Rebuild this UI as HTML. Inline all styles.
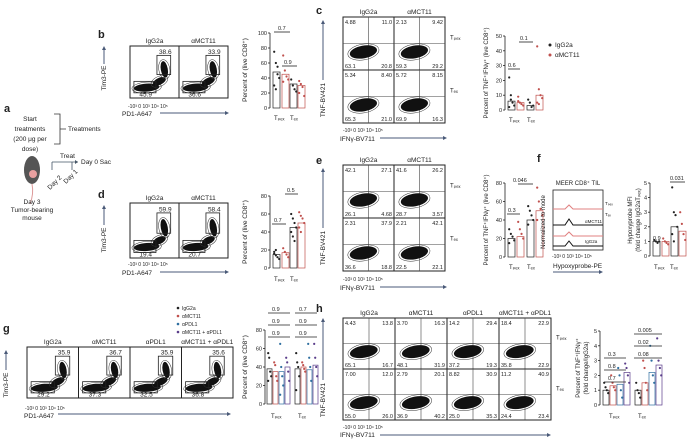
<!DOCTYPE html>
<html><head><meta charset="utf-8"><style>
html,body{margin:0;padding:0;background:#fff}
svg{display:block}
text{font-family:"Liberation Sans",sans-serif;fill:#222}
</style></head><body>
<svg id="s" width="693" height="444" viewBox="0 0 693 444" xmlns="http://www.w3.org/2000/svg">
<g font-size="6.5">
<text x="4" y="112" font-size="11" font-weight="bold">a</text>
<text x="30" y="121" text-anchor="middle">Start</text>
<text x="30" y="131" text-anchor="middle">treatments</text>
<text x="30" y="141" text-anchor="middle">(200 μg per</text>
<text x="30" y="151" text-anchor="middle">dose)</text>
<path d="M54 114 H60 V144 H54 M60 129 H66" stroke="#333" fill="none" stroke-width="0.8"/>
<text x="68" y="131">Treatments</text>
<ellipse cx="32" cy="170" rx="8" ry="14" fill="#555"/><circle cx="33" cy="174" r="4" fill="#e8a0a0"/>
<path d="M32 184 q2 10 -2 20" stroke="#d99" fill="none"/>
<path d="M52 162 H78 M52 162 V170 M72 162 V170" stroke="#456" fill="none" stroke-width="0.8"/>
<path d="M78 162 l-3 -2 v4z" fill="#456"/>
<text x="60" y="158">Treat</text><text x="81" y="164">Day 0 Sac</text>
<text x="50" y="190" transform="rotate(-45 50 190)">Day 2</text>
<text x="66" y="184" transform="rotate(-45 66 184)">Day 1</text>
<text x="32" y="204" text-anchor="middle">Day 3</text>
<text x="32" y="212" text-anchor="middle">Tumor-bearing</text>
<text x="32" y="220" text-anchor="middle">mouse</text>
</g>
<g id="g"></g>
</svg>
<script>
const G=document.getElementById('g');let h='';
const T=(x,y,t,o={})=>{h+=`<text x="${x}" y="${y}" font-size="${o.s||6.5}" ${o.a?`text-anchor="${o.a}"`:''} fill="${o.c||'#222'}" ${o.b?'font-weight="bold"':''} ${o.r?`transform="rotate(-90 ${x} ${y})"`:''}>${t}</text>`;};
const L=(x1,y1,x2,y2,c='#222',w=0.8)=>{h+=`<line x1="${x1}" y1="${y1}" x2="${x2}" y2="${y2}" stroke="${c}" stroke-width="${w}"/>`;};
const R=(x,y,w,hh,c='#222',f='none',sw=0.8)=>{h+=`<rect x="${x}" y="${y}" width="${w}" height="${hh}" stroke="${c}" fill="${f}" stroke-width="${sw}"/>`;};
const ah=(x1,y,x2)=>{L(x1,y,x2,y,'#4a5a78',1);h+=`<path d="M${x2+3} ${y} l-4 -2 v4z" fill="#4a5a78"/>`;};
const av=(x,y1,y2)=>{L(x,y1,x,y2+3,'#4a5a78',1);h+=`<path d="M${x} ${y2} l-2 4 h4z" fill="#4a5a78"/>`;};
const blob=(cx,cy,rx,ry,rot=-20)=>{h+=`<ellipse transform="rotate(${rot} ${cx} ${cy})" cx="${cx}" cy="${cy}" rx="${rx}" ry="${ry}" fill="#111"/><ellipse transform="rotate(${rot} ${cx} ${cy})" cx="${cx}" cy="${cy}" rx="${rx+2}" ry="${ry+1.5}" fill="none" stroke="#333" stroke-width="0.5"/>`;};
function pd(x0,y0,ws,hh,titles,tl,bl){
 titles.forEach((t,i)=>{const x=x0+i*ws;R(x,y0,ws,hh,'#222','none',1);T(x+ws/2,y0-3,t,{a:'middle'});
  blob(x+ws*0.34,y0+hh*0.8,ws*0.26,4,-4);blob(x+ws*0.6,y0+hh*0.68,ws*0.14,3.5,-25);blob(x+ws*0.7,y0+hh*0.45,3.5,hh*0.16,-10);
  R(x+ws*0.55,y0+hh*0.18,ws*0.28,hh*0.37,'#222');R(x+ws*0.08,y0+hh*0.68,ws*0.45,hh*0.22,'#222');
  T(x+ws*0.72,y0+hh*0.15,tl[i],{a:'middle'});T(x+ws*0.32,y0+hh-1.5,bl[i],{a:'middle'});});
}
function yaxis(x,y0,y1,ticks){L(x,y0,x,y1);ticks.forEach((t,i)=>{const y=y0+(y1-y0)*i/(ticks.length-1);L(x-2,y,x,y);T(x-3,y+2,t,{a:'end',s:5.5});});}
function bars(x,y0,y1,series,max,cols){
 series.forEach((s,i)=>{const bx=x+s[2];const by=y1-(y1-y0)*s[0]/max;const w=s[3]||7;R(bx,by,w,y1-by,cols[i%cols.length],'none',0.7);
 s[1].forEach((v,j)=>{h+=`<circle cx="${bx+1.2+(j%4)*(w-2)/3}" cy="${y1-(y1-y0)*v/max}" r="1.1" fill="${cols[i%cols.length]}"/>`;});});
}
const K='#222',RD='#c0504d',BL='#2f6fa0',PU='#5a3d8a';
// b
T(98,38,'b',{s:11,b:1});pd(130,46,49,52,['IgG2a','αMCT11'],['38.6','33.9'],['45.9','36.6']);
T(106,90,'Tim3-PE');h=h.replace(/<text x="106" y="90"[^>]*>Tim3-PE<\/text>$/,'');
T(106,78,'Tim3-PE',{r:1,a:'middle'});av(104,64,46);
T(128,108,'-10³ 0 10³  10⁴ 10⁵',{s:5});T(122,116,'PD1-A647');ah(160,113,226);
yaxis(270,33,108,['100','80','60','40','20','0']);T(247,70,'Percent of (live CD8⁺)',{r:1,a:'middle'});
bars(270,33,108,[[48,[75,60,45,40,30,25,55],3],[45,[70,50,42,38,35],12],[32,[38,30,25,22],20],[30,[36,32,28,16,20],28]],100,[K,RD]);
T(278,30,'0.7',{s:5.5});L(274,32,290,32);T(284,64,'0.9',{s:5.5});L(282,66,297,66);
T(274,120,'Tₚₑₓ',{s:6});T(290,120,'Tₑₓ',{s:6});
// c
T(316,14,'c',{s:11,b:1});
function fq(x0,y0,ws,hh,cols,rows,q,rl){
 cols.forEach((t,i)=>T(x0+ws*i+ws/2,y0-3,t,{a:'middle'}));
 for(let r=0;r<rows;r++)for(let c=0;c<cols.length;c++){const x=x0+c*ws,y=y0+r*hh;R(x,y,ws,hh,'#222','none',1);L(x+ws*0.5,y,x+ws*0.5,y+hh,'#444',0.6);L(x,y+hh*0.5,x+ws,y+hh*0.5,'#444',0.6);
 blob(x+ws*0.4,y+hh*0.66,ws*0.27,hh*0.12,-10);const v=q[r][c];T(x+2,y+7,v[0],{s:5.5});T(x+ws-2,y+7,v[1],{s:5.5,a:'end',c:'#e06060'});T(x+2,y+hh-2,v[2],{s:5.5});T(x+ws-2,y+hh-2,v[3],{s:5.5,a:'end'});}
 rl.forEach((t,r)=>T(x0+ws*cols.length+5,y0+hh*r+hh*0.42,t,{s:6}));
}
fq(343,17,51,53,['IgG2a','αMCT11'],2,[[['4.88','11.0','63.1','20.8'],['2.13','9.42','59.3','29.2']],[['5.34','8.40','65.3','21.0'],['5.72','8.15','69.9','16.3']]],['Tₚₑₓ','Tₑₓ']);
T(325,100,'TNF-BV421',{r:1,a:'middle'});av(323,80,20);T(343,132,'-10³ 0 10³  10⁴ 10⁵',{s:5});T(340,141,'IFNγ-BV711');ah(380,138,444);
yaxis(505,36,110,['50','40','30','20','10','0']);T(488,73,'Percent of TNF⁺IFNγ⁺ (live CD8⁺)',{r:1,a:'middle',s:6});
bars(505,36,110,[[6,[22,10,5,3,2,7],3],[5,[9,5,4,3,6],12],[3,[7,5,2,3],22],[10,[43,14,10,8,5,4],31]],50,[K,RD]);
T(508,67,'0.6',{s:5.5});L(508,69,520,69);T(520,40,'0.1',{s:5.5});L(519,42,533,42);T(509,122,'Tₚₑₓ',{s:6});T(527,122,'Tₑₓ',{s:6});
h+=`<circle cx="550" cy="45" r="1.5" fill="${K}"/><circle cx="550" cy="55" r="1.5" fill="${RD}"/>`;T(555,47,'IgG2a');T(555,57,'αMCT11');
// d
T(98,198,'d',{s:11,b:1});pd(130,203,49,55,['IgG2a','αMCT11'],['59.9','58.4'],['19.4','20.7']);
T(106,240,'Tim3-PE',{r:1,a:'middle'});av(104,225,205);T(128,266,'-10³ 0 10³  10⁴ 10⁵',{s:5});
T(122,275,'PD1-A647');ah(160,272,226);
yaxis(270,196,268,['80','60','40','20','0']);T(247,232,'Percent of (live CD8⁺)',{r:1,a:'middle'});
bars(270,196,268,[[15,[18,14,12,10,16,20],3],[17,[22,18,15,12],12],[45,[60,55,50,45,40,35,30],20],[50,[62,58,55,50,45,40],28]],80,[K,RD]);
T(274,222,'0.7',{s:5.5});L(272,224,286,224);T(287,192,'0.5',{s:5.5});L(285,194,298,194);T(274,281,'Tₚₑₓ',{s:6});T(290,281,'Tₑₓ',{s:6});
// e
T(316,164,'e',{s:11,b:1});
fq(343,165,51,53,['IgG2a','αMCT11'],2,[[['42.1','27.1','26.1','4.68'],['41.6','26.2','28.7','3.57']],[['2.31','37.9','36.6','18.8'],['2.21','42.1','22.5','22.1']]],['Tₚₑₓ','Tₑₓ']);
T(325,248,'TNF-BV421',{r:1,a:'middle'});av(323,228,168);T(343,281,'-10³ 0 10³  10⁴ 10⁵',{s:5});T(340,290,'IFNγ-BV711');ah(380,287,444);
yaxis(505,183,257,['80','60','40','20','0']);T(488,220,'Percent of TNF⁺IFNγ⁺ (live CD8⁺)',{r:1,a:'middle',s:6});
bars(505,183,257,[[20,[30,25,22,18,15],3],[22,[38,30,25,20],12],[40,[55,50,45,40,35],22],[50,[75,60,52,45,40],31]],80,[K,RD]);
T(508,212,'0.3',{s:5.5});L(507,214,520,214);T(513,182,'0.046',{s:5.5});L(518,184,533,184);T(509,269,'Tₚₑₓ',{s:6});T(527,269,'Tₑₓ',{s:6});
// f
T(537,162,'f',{s:11,b:1});T(578,185,'MEER CD8⁺ TIL',{a:'middle',s:6});R(553,190,50,60,'#222','none',0.8);
h+=`<path d="M553 209 H565 l4 -4 l4 4 H603" stroke="#e08080" fill="none"/><path d="M553 225 H565 l4 -6 l4 6 H603" stroke="#111" fill="none"/><path d="M553 236 H565 l4 -4 l4 4 H603" stroke="#e08080" fill="none"/><path d="M553 246 H565 l4 -5 l4 5 H603" stroke="#111" fill="none"/>`;
T(585,223,'αMCT11',{s:4.5,c:'#c06060'});T(585,243,'IgG2a',{s:4.5});T(605,205,'Tₚₑₓ',{s:4.5});T(605,216,'Tₑₓ',{s:4.5});
T(545,222,'Normalized to mode',{r:1,a:'middle',s:6});T(552,258,'-10³ 0 10³  10⁴ 10⁵',{s:5});T(553,268,'Hypoxyprobe-PE');ah(553,272,600);
yaxis(650,183,256,['5','4','3','2','1','0']);T(632,220,'Hypoxyprobe MFI',{r:1,a:'middle',s:6});T(640,220,'(fold change IgG2aTₚₑₓ)',{r:1,a:'middle',s:6});
bars(650,183,256,[[1,[1.1,1,0.9,1],3],[1,[1.2,1,0.9,0.8],12],[2,[4.7,3,2.8,2,1.5,1],21],[1.7,[3,2.2,1.5,1.1],29]],5,[K,RD]);
T(653,240,'0.9',{s:5.5});T(670,180,'0.031',{s:5.5});L(670,182,685,182);T(654,269,'Tₚₑₓ',{s:6});T(670,269,'Tₑₓ',{s:6});
// g
T(3,332,'g',{s:11,b:1});
[['IgG2a',K],['αMCT11',RD],['αPDL1',BL],['αMCT11 + αPDL1',PU]].forEach((l,i)=>{h+=`<circle cx="178" cy="${308+i*8}" r="1.3" fill="${l[1]}"/>`;T(182,310+i*8,l[0],{s:5});});
pd(27,347,51.5,51,['IgG2a','αMCT11','αPDL1','αMCT11 + αPDL1'],['35.9','36.7','35.9','35.6'],['29.2','37.3','32.5','36.8']);
T(8,385,'Tim3-PE',{r:1,a:'middle'});av(6,370,350);T(25,410,'-10³ 0 10³  10⁴ 10⁵',{s:5});T(24,418,'PD1-A647');ah(58,414,228);
yaxis(265,330,404,['80','60','40','20','0']);T(247,367,'Percent of (live CD8⁺)',{r:1,a:'middle'});
bars(265,330,404,[[38,[55,50,35,30,25],2,5],[35,[45,42,30,25],8,5],[35,[65,40,30,20,10],14,5],[40,[50,45,35,25],20,5],[38,[55,45,40,30,15],30,5],[40,[45,42,38,35],36,5],[37,[65,50,40,25],42,5],[42,[65,50,40,30],48,5]],80,[K,RD,BL,PU]);
[['0.9',268,337],['0.9',268,325],['0.9',268,313],['0.9',295,337],['0.9',295,325],['0.7',295,313]].forEach(a=>{T(a[1]+4,a[2]-2,a[0],{s:5.5});L(a[1],a[2],a[1]+22,a[2]);});
T(271,418,'Tₚₑₓ',{s:6});T(298,418,'Tₑₓ',{s:6});
// h
T(316,312,'h',{s:11,b:1});
const hq=[[['4.43','13.8','65.1','16.7'],['3.70','16.3','48.1','31.9'],['14.2','29.4','37.2','19.3'],['18.4','22.9','35.8','22.9']],[['7.00','12.0','55.0','26.0'],['2.79','20.1','36.9','40.2'],['8.82','30.9','25.0','35.3'],['11.2','40.9','24.4','23.4']]];
fq(343,318,52,51,['IgG2a','αMCT11','αPDL1','αMCT11 + αPDL1'],2,hq,['Tₚₑₓ','Tₑₓ']);
T(325,400,'TNF-BV421',{r:1,a:'middle'});av(323,380,318);T(343,429,'-10³ 0 10³  10⁴ 10⁵',{s:5});T(340,437,'IFNγ-BV711');ah(380,435,548);
yaxis(600,331,405,['5','4','3','2','1','0']);T(580,368,'Percent of TNF⁺IFNγ⁺',{r:1,a:'middle',s:6});T(588,368,'(fold change/IgG2a)',{r:1,a:'middle',s:6});
bars(600,331,405,[[1,[1.5,1.2,1,0.8],3,6],[1.3,[2,1.5,1.2,1],10,6],[1.4,[2.5,2,1,0.5],17,6],[2.2,[2.8,2.5,2,1.5],24,6],[1,[1.5,1,0.8,0.5],35,6],[1.5,[3,2.5,1.5,1],42,6],[2.2,[4,3,2,1.5],49,6],[2.7,[4.5,3,2.5,2],56,6]],5,[K,RD,BL,PU]);
[['0.7',604,382],['0.8',604,370],['0.3',604,358],['0.08',634,358],['0.02',634,346],['0.005',634,334]].forEach(a=>{T(a[1]+4,a[2]-2,a[0],{s:5.5});L(a[1],a[2],a[1]+(a[1]>620?28:22),a[2]);});
T(609,418,'Tₚₑₓ',{s:6});T(638,418,'Tₑₓ',{s:6});
G.innerHTML=h;
</script>
</body></html>
